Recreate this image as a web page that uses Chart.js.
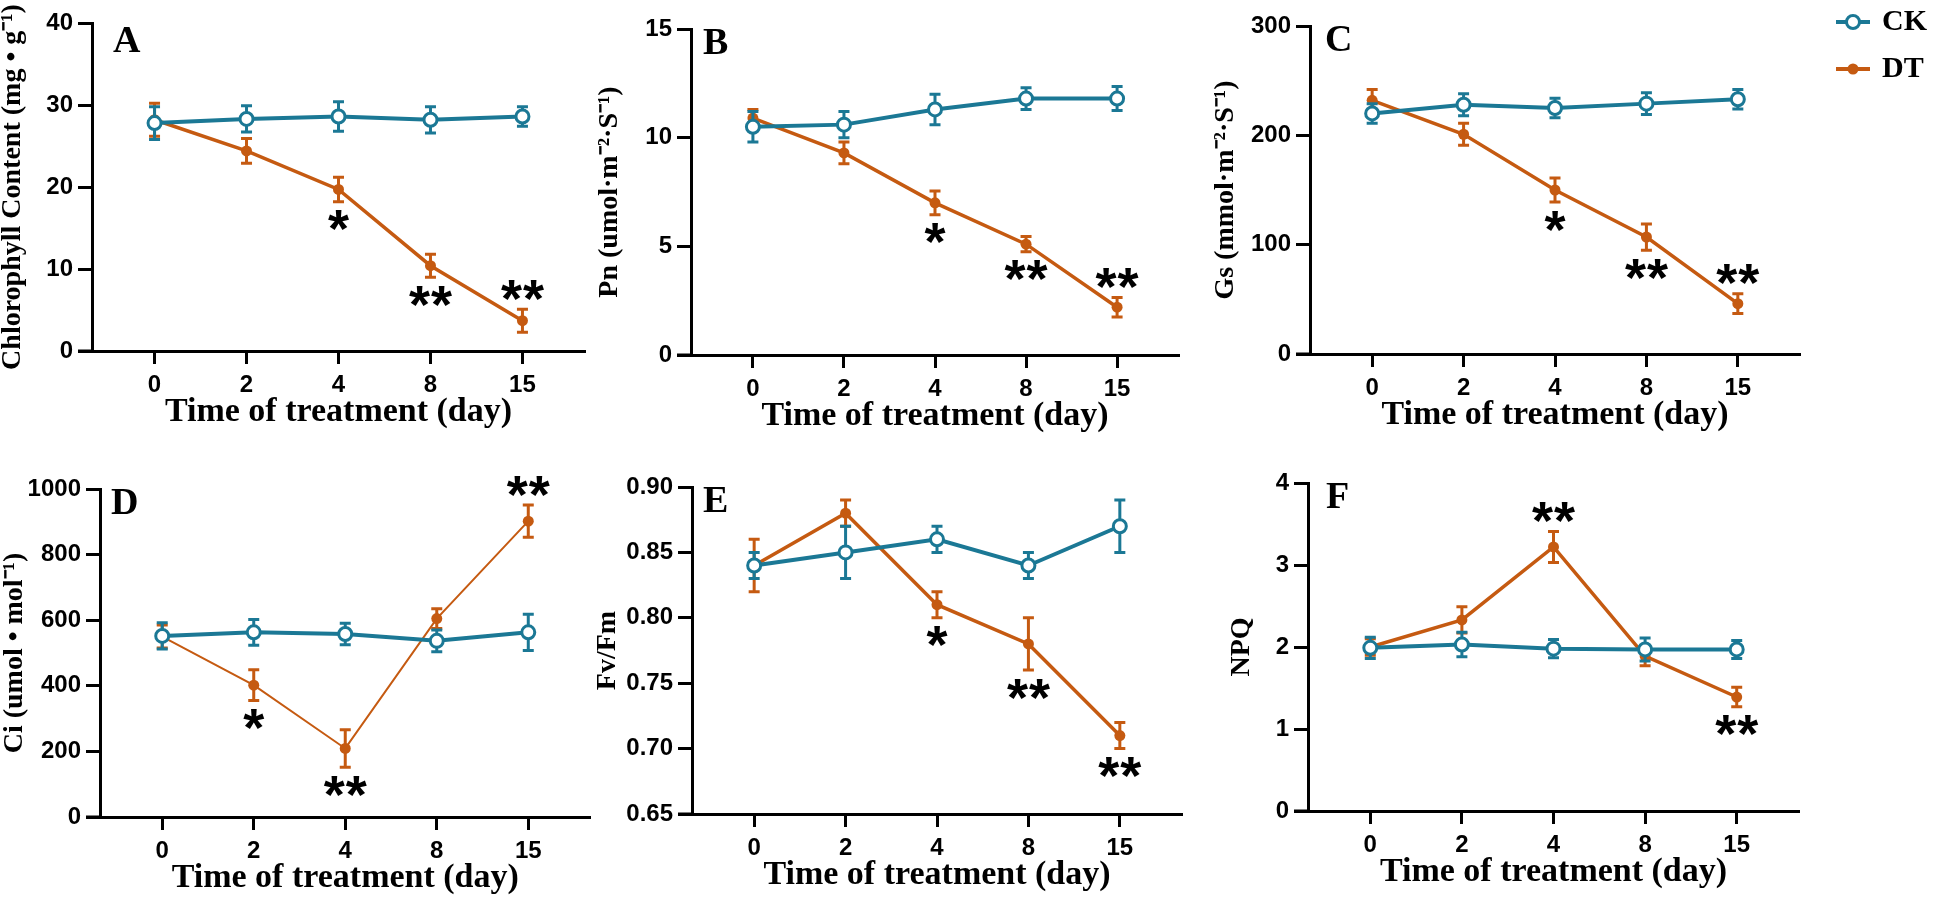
<!DOCTYPE html>
<html>
<head>
<meta charset="utf-8">
<title>Photosynthesis under drought treatment</title>
<script src="https://cdn.jsdelivr.net/npm/chart.js@4.4.1/dist/chart.umd.min.js"></script>
<style>
	html, body { margin: 0; padding: 0; background: #fff; }
	body { width: 1944px; height: 907px; position: relative; overflow: hidden; }
	canvas { position: absolute; }
</style>
</head>
<body>
<canvas id="chartA"></canvas>
<canvas id="chartB"></canvas>
<canvas id="chartC"></canvas>
<canvas id="chartD"></canvas>
<canvas id="chartE"></canvas>
<canvas id="chartF"></canvas>
<script>
// Sampling days (x categories)
const days = ['0', '2', '4', '8', '15'];
const groups = ['CK', 'DT'];

// A: chlorophyll content
const ckChl = [27.8, 28.3, 28.6, 28.2, 28.6];
const ckChlErr = [2.0, 1.6, 1.8, 1.6, 1.2];
const dtChl = [28.2, 24.4, 19.7, 10.4, 3.7];
const dtChlErr = [2.0, 1.5, 1.5, 1.4, 1.4];
const sigChl = ['', '', '*', '**', '**'];
const sigChlSide = ['', '', 'below', 'below', 'above'];
const yTicksChl = [0, 10, 20, 30, 40];

// B: Pn
const ckPn = [10.5, 10.6, 11.3, 11.8, 11.8];
const ckPnErr = [0.7, 0.6, 0.7, 0.5, 0.55];
const dtPn = [10.9, 9.3, 7.0, 5.1, 2.2];
const dtPnErr = [0.4, 0.5, 0.55, 0.35, 0.45];
const sigPn = ['', '', '*', '**', '**'];
const sigPnSide = ['', '', 'below', 'below', 'above'];
const yTicksPn = [0, 5, 10, 15];

// C: Gs
const ckGs = [220, 228, 225, 229, 233];
const ckGsErr = [9, 10, 9, 10, 9];
const dtGs = [232, 201, 150, 107, 46];
const dtGsErr = [10, 10, 11, 12, 9];
const sigGs = ['', '', '*', '**', '**'];
const sigGsSide = ['', '', 'below', 'below', 'above'];
const yTicksGs = [0, 100, 200, 300];

// D: Ci
const ckCi = [552, 563, 558, 537, 563];
const ckCiErr = [40, 39, 33, 33, 55];
const dtCi = [550, 402, 209, 605, 902];
const dtCiErr = [35, 47, 57, 30, 49];
const sigCi = ['', '*', '**', '', '**'];
const sigCiSide = ['', 'below', 'below', '', 'above'];
const yTicksCi = [0, 200, 400, 600, 800, 1000];

// E: Fv/Fm
const ckFv = [0.84, 0.85, 0.86, 0.84, 0.87];
const ckFvErr = [0.01, 0.02, 0.01, 0.01, 0.02];
const dtFv = [0.84, 0.88, 0.81, 0.78, 0.71];
const dtFvErr = [0.02, 0.01, 0.01, 0.02, 0.01];
const sigFv = ['', '', '*', '**', '**'];
const sigFvSide = ['', '', 'below', 'below', 'below'];
const yTicksFv = [0.65, 0.70, 0.75, 0.80, 0.85, 0.90];

// F: NPQ
const ckNpq = [1.99, 2.03, 1.98, 1.97, 1.97];
const ckNpqErr = [0.13, 0.15, 0.11, 0.14, 0.11];
const dtNpq = [2.0, 2.33, 3.22, 1.89, 1.39];
const dtNpqErr = [0.1, 0.16, 0.19, 0.12, 0.12];
const sigNpq = ['', '', '**', '', '**'];
const sigNpqSide = ['', '', 'above', '', 'below'];
const yTicksNpq = [0, 1, 2, 3, 4];

const TEAL = '#1b7895';
const ORANGE = '#c55a11';
const TICK_FONT = { family: "'Liberation Sans', Arial, sans-serif", weight: 'bold', size: 24 };
const X_TITLE_FONT = { family: "'Liberation Serif', 'Times New Roman', serif", weight: 'bold', size: 34 };
const Y_TITLE_FONT = { family: "'Liberation Serif', 'Times New Roman', serif", weight: 'bold', size: 28 };
const X_MIN = -0.68, X_MAX = 4.68;

// error bars, asterisks, panel letter, axis stub and legend
const panelDeco = {
	id: 'panelDeco',
	beforeDatasetDraw(chart, args, opts) {
		const ds = chart.data.datasets[args.index];
		if (!ds.errors) return;
		const ctx = chart.ctx;
		const ys = chart.scales.y;
		ctx.save();
		ctx.strokeStyle = ds.borderColor;
		ctx.lineWidth = 3;
		args.meta.data.forEach((pt, i) => {
			const v = ds.data[i].y, e = ds.errors[i];
			const hi = ys.getPixelForValue(v + e);
			const lo = ys.getPixelForValue(v - e);
			ctx.beginPath();
			ctx.moveTo(pt.x, hi); ctx.lineTo(pt.x, lo);
			ctx.moveTo(pt.x - 5.5, hi); ctx.lineTo(pt.x + 5.5, hi);
			ctx.moveTo(pt.x - 5.5, lo); ctx.lineTo(pt.x + 5.5, lo);
			ctx.stroke();
		});
		ctx.restore();
	},
	afterDatasetsDraw(chart, args, opts) {
		const ctx = chart.ctx;
		const area = chart.chartArea;
		const ys = chart.scales.y;

		// x axis runs a tick length past the y axis
		ctx.save();
		ctx.strokeStyle = '#000';
		ctx.lineWidth = 3;
		ctx.beginPath();
		ctx.moveTo(area.left - 14, area.bottom);
		ctx.lineTo(area.left, area.bottom);
		ctx.stroke();

		// significance marks
		ctx.fillStyle = '#000';
		ctx.font = "bold 54px 'Liberation Sans', Arial, sans-serif";
		ctx.textAlign = 'center';
		ctx.textBaseline = 'alphabetic';
		chart.data.datasets.forEach((ds, di) => {
			if (!ds.sig) return;
			const meta = chart.getDatasetMeta(di);
			ds.sig.forEach((s, i) => {
				if (!s) return;
				const v = ds.data[i].y, e = ds.errors[i];
				const cy = ds.sigSide[i] === 'above'
					? ys.getPixelForValue(v + e) - 19
					: ys.getPixelForValue(v - e) + 19;
				const m = ctx.measureText('*');
				const base = cy + (m.actualBoundingBoxAscent - m.actualBoundingBoxDescent) / 2;
				const x0 = meta.data[i].x - (s.length - 1) * 11;
				for (let k = 0; k < s.length; k++) ctx.fillText('*', x0 + k * 22, base);
			});
		});

		// panel letter
		ctx.font = "bold 38px 'Liberation Serif', 'Times New Roman', serif";
		ctx.textAlign = 'left';
		ctx.fillText(opts.letter, area.left + opts.letterDx, area.top + opts.letterDy);

		// legend (line + marker + label)
		if (opts.legend) {
			chart.data.datasets.forEach((ds, di) => {
				const y = area.top - 4 + di * 47;
				const x1 = area.right + 36, x2 = area.right + 70;
				ctx.strokeStyle = ds.borderColor;
				ctx.lineWidth = 4;
				ctx.beginPath();
				ctx.moveTo(x1, y); ctx.lineTo(x2, y);
				ctx.stroke();
				ctx.beginPath();
				ctx.arc((x1 + x2) / 2, y, ds.pointRadius, 0, Math.PI * 2);
				ctx.fillStyle = ds.pointBackgroundColor;
				ctx.fill();
				if (ds.pointBorderWidth) {
					ctx.lineWidth = ds.pointBorderWidth;
					ctx.stroke();
				}
				ctx.fillStyle = '#000';
				ctx.font = "bold 30px 'Liberation Serif', 'Times New Roman', serif";
				ctx.textBaseline = 'middle';
				ctx.fillText(ds.label, area.right + 82, y);
				ctx.textBaseline = 'alphabetic';
			});
		}
		ctx.restore();
	}
};

function toPoints(values) {
	return values.map((v, i) => ({ x: i, y: v }));
}

function makePanel(p) {
	const canvas = document.getElementById(p.id);
	canvas.width = p.box.w;
	canvas.height = p.box.h;
	canvas.style.left = p.box.l + 'px';
	canvas.style.top = p.box.t + 'px';

	const yWidth = p.area.left - p.box.l;
	const xHeight = p.box.t + p.box.h - p.area.bottom;
	const xLine = X_TITLE_FONT.size * 1.2;
	const yLine = Y_TITLE_FONT.size * 1.2;

	new Chart(canvas, {
		type: 'line',
		data: {
			datasets: [{
				label: groups[0],
				data: toPoints(p.ck),
				errors: p.ckErr,
				borderColor: TEAL,
				borderWidth: 4,
				pointRadius: 6.5,
				pointBorderWidth: 3,
				pointBackgroundColor: '#fff',
				pointBorderColor: TEAL,
				tension: 0,
				clip: false
			}, {
				label: groups[1],
				data: toPoints(p.dt),
				errors: p.dtErr,
				sig: p.sig,
				sigSide: p.sigSide,
				borderColor: ORANGE,
				borderWidth: p.dtWidth,
				pointRadius: 5.5,
				pointBorderWidth: 0,
				pointBackgroundColor: ORANGE,
				pointBorderColor: ORANGE,
				tension: 0,
				clip: false
			}]
		},
		options: {
			responsive: false,
			animation: false,
			devicePixelRatio: 1,
			layout: {
				padding: { left: 0, top: p.area.top - p.box.t, right: p.box.l + p.box.w - p.area.right, bottom: 0 }
			},
			plugins: {
				legend: { display: false },
				tooltip: { enabled: false },
				panelDeco: { letter: p.letter, letterDx: p.letterDx, letterDy: p.letterDy, legend: !!p.legend }
			},
			scales: {
				x: {
					type: 'linear',
					min: X_MIN,
					max: X_MAX,
					afterBuildTicks: s => { s.ticks = days.map((d, i) => ({ value: i })); },
					afterFit: s => { s.height = xHeight; },
					ticks: {
						autoSkip: false,
						maxRotation: 0,
						padding: 7,
						color: '#000',
						font: TICK_FONT,
						callback: v => days[v]
					},
					grid: { display: true, drawOnChartArea: false, drawTicks: true, tickLength: 13, tickWidth: 3, tickColor: '#000' },
					border: { display: true, color: '#000', width: 3 },
					title: {
						display: true,
						text: 'Time of treatment (day)',
						color: '#000',
						font: X_TITLE_FONT,
						padding: { top: 0, bottom: xHeight - 61 - xLine / 2 }
					}
				},
				y: {
					type: 'linear',
					min: p.yTicks[0],
					max: p.yTicks[p.yTicks.length - 1],
					afterBuildTicks: s => { s.ticks = p.yTicks.map(v => ({ value: v })); },
					afterFit: s => { s.width = yWidth; },
					ticks: {
						padding: 5,
						color: '#000',
						font: TICK_FONT,
						callback: v => v.toFixed(p.dec)
					},
					grid: { display: true, drawOnChartArea: false, drawTicks: true, tickLength: 14, tickWidth: 3, tickColor: '#000' },
					border: { display: true, color: '#000', width: 3 },
					title: {
						display: true,
						text: p.yTitle,
						color: '#000',
						font: Y_TITLE_FONT,
						padding: { top: p.yTitleX - p.box.l - yLine / 2, bottom: 0 }
					}
				}
			}
		},
		plugins: [panelDeco]
	});
}

const panels = [
	{ id: 'chartA', letter: 'A', letterDx: 21, letterDy: 29, yTitle: 'Chlorophyll Content (mg • g⁻¹)',
		box: { l: -10, t: 0, w: 610, h: 445 }, area: { left: 92, top: 23, right: 585, bottom: 351 }, yTitleX: 13,
		ck: ckChl, ckErr: ckChlErr, dt: dtChl, dtErr: dtChlErr, sig: sigChl, sigSide: sigChlSide, yTicks: yTicksChl, dec: 0, dtWidth: 3.5 },
	{ id: 'chartB', letter: 'B', letterDx: 12, letterDy: 25, yTitle: 'Pn (umol·m⁻²·S⁻¹)',
		box: { l: 560, t: 0, w: 640, h: 445 }, area: { left: 691, top: 29, right: 1179, bottom: 355 }, yTitleX: 610,
		ck: ckPn, ckErr: ckPnErr, dt: dtPn, dtErr: dtPnErr, sig: sigPn, sigSide: sigPnSide, yTicks: yTicksPn, dec: 0, dtWidth: 3.5 },
	{ id: 'chartC', letter: 'C', letterDx: 15, letterDy: 25, yTitle: 'Gs (mmol·m⁻²·S⁻¹)', legend: true,
		box: { l: 1160, t: 0, w: 784, h: 445 }, area: { left: 1310, top: 26, right: 1800, bottom: 354 }, yTitleX: 1226,
		ck: ckGs, ckErr: ckGsErr, dt: dtGs, dtErr: dtGsErr, sig: sigGs, sigSide: sigGsSide, yTicks: yTicksGs, dec: 0, dtWidth: 3.5 },
	{ id: 'chartD', letter: 'D', letterDx: 11, letterDy: 25, yTitle: 'Ci (umol • mol⁻¹)',
		box: { l: -10, t: 445, w: 610, h: 462 }, area: { left: 100, top: 489, right: 592, bottom: 817 }, yTitleX: 15,
		ck: ckCi, ckErr: ckCiErr, dt: dtCi, dtErr: dtCiErr, sig: sigCi, sigSide: sigCiSide, yTicks: yTicksCi, dec: 0, dtWidth: 2 },
	{ id: 'chartE', letter: 'E', letterDx: 11, letterDy: 25, yTitle: 'Fv/Fm',
		box: { l: 560, t: 445, w: 640, h: 462 }, area: { left: 692, top: 487, right: 1182, bottom: 814 }, yTitleX: 608,
		ck: ckFv, ckErr: ckFvErr, dt: dtFv, dtErr: dtFvErr, sig: sigFv, sigSide: sigFvSide, yTicks: yTicksFv, dec: 2, dtWidth: 3.5 },
	{ id: 'chartF', letter: 'F', letterDx: 18, letterDy: 25, yTitle: 'NPQ',
		box: { l: 1160, t: 445, w: 784, h: 462 }, area: { left: 1308, top: 483, right: 1799, bottom: 811 }, yTitleX: 1242,
		ck: ckNpq, ckErr: ckNpqErr, dt: dtNpq, dtErr: dtNpqErr, sig: sigNpq, sigSide: sigNpqSide, yTicks: yTicksNpq, dec: 0, dtWidth: 3.5 }
];

panels.forEach(makePanel);
</script>
</body>
</html>
